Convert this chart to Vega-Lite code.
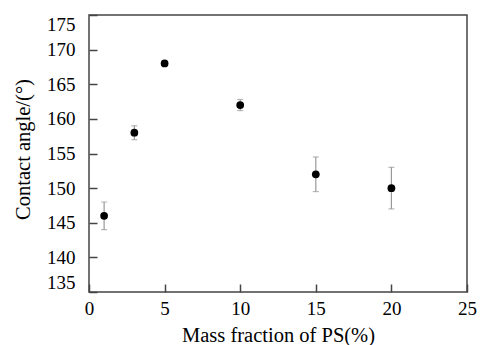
{
  "$schema": "https://vega.github.io/schema/vega-lite/v6.json",
  "width": 378,
  "height": 277,
  "autosize": "none",
  "padding": {"left": 89, "top": 15, "right": 13, "bottom": 53},
  "background": "white",
  "config": {
    "view": {"stroke": "#444", "strokeWidth": 1.5},
    "font": "Liberation Serif",
    "axis": {
      "grid": false,
      "zindex": 1,
      "domain": false,
      "offset": -8,
      "ticks": true,
      "tickSize": 8,
      "tickColor": "#444",
      "tickWidth": 1.5,
      "labelFont": "Liberation Serif",
      "labelFontSize": 19,
      "labelColor": "black",
      "labelOverlap": false,
      "titleFont": "Liberation Serif",
      "titleFontSize": 20.5,
      "titleFontWeight": "normal",
      "titleColor": "black"
    },
    "axisX": {"labelPadding": 7, "labelFlush": false, "titleY": 51, "titleBaseline": "middle"},
    "axisY": {"labelPadding": 14, "labelFlush": true, "titleX": -74, "titleY": 134, "titleBaseline": "middle"}
  },
  "data": {
    "values": [
      {"x": 1, "y": 146, "lo": 144, "hi": 148},
      {"x": 3, "y": 158, "lo": 157, "hi": 159},
      {"x": 5, "y": 168, "lo": 167.7, "hi": 168.3},
      {"x": 10, "y": 162, "lo": 161.2, "hi": 162.8},
      {"x": 15, "y": 152, "lo": 149.5, "hi": 154.5},
      {"x": 20, "y": 150, "lo": 147, "hi": 153}
    ]
  },
  "layer": [
    {
      "mark": {"type": "rule", "color": "#999", "strokeWidth": 1.2},
      "encoding": {
        "x": {"field": "x", "type": "quantitative", "scale": {"domain": [0, 25], "nice": false}, "axis": {"values": [0, 5, 10, 15, 20, 25], "title": "Mass fraction of PS(%)"}},
        "y": {"field": "lo", "type": "quantitative", "scale": {"domain": [135, 175], "nice": false, "zero": false}, "axis": {"values": [135, 140, 145, 150, 155, 160, 165, 170, 175], "title": "Contact angle/(°)"}},
        "y2": {"field": "hi"}
      }
    },
    {
      "mark": {"type": "tick", "color": "#999", "orient": "horizontal", "size": 6, "thickness": 1.2},
      "encoding": {
        "x": {"field": "x", "type": "quantitative", "scale": {"domain": [0, 25], "nice": false}, "axis": {"values": [0, 5, 10, 15, 20, 25], "title": "Mass fraction of PS(%)"}},
        "y": {"field": "lo", "type": "quantitative", "scale": {"domain": [135, 175], "nice": false, "zero": false}, "axis": {"values": [135, 140, 145, 150, 155, 160, 165, 170, 175], "title": "Contact angle/(°)"}}
      }
    },
    {
      "mark": {"type": "tick", "color": "#999", "orient": "horizontal", "size": 6, "thickness": 1.2},
      "encoding": {
        "x": {"field": "x", "type": "quantitative", "scale": {"domain": [0, 25], "nice": false}, "axis": {"values": [0, 5, 10, 15, 20, 25], "title": "Mass fraction of PS(%)"}},
        "y": {"field": "hi", "type": "quantitative", "scale": {"domain": [135, 175], "nice": false, "zero": false}, "axis": {"values": [135, 140, 145, 150, 155, 160, 165, 170, 175], "title": "Contact angle/(°)"}}
      }
    },
    {
      "mark": {"type": "point", "shape": "circle", "filled": true, "color": "black", "size": 60, "opacity": 1},
      "encoding": {
        "x": {"field": "x", "type": "quantitative", "scale": {"domain": [0, 25], "nice": false}, "axis": {"values": [0, 5, 10, 15, 20, 25], "title": "Mass fraction of PS(%)"}},
        "y": {"field": "y", "type": "quantitative", "scale": {"domain": [135, 175], "nice": false, "zero": false}, "axis": {"values": [135, 140, 145, 150, 155, 160, 165, 170, 175], "title": "Contact angle/(°)"}}
      }
    }
  ]
}
